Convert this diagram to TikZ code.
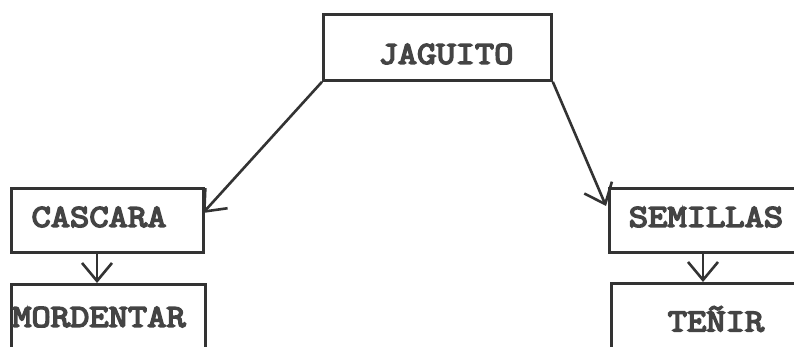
\documentclass[tikz,border=0pt]{standalone}
\usepackage{fontspec}
\newfontfamily\boxfont[FakeBold=5,FakeStretch=1.17]{Latin Modern Mono}
\usetikzlibrary{arrows.meta}
\definecolor{ink}{HTML}{333333}
\definecolor{txt}{HTML}{444444}
\begin{document}
\begin{tikzpicture}[x=1pt,y=-1pt,
  box/.style={draw=ink,line width=2.8pt,rectangle,inner sep=0pt,anchor=north west},
  lbl/.style={text=txt,font=\fontsize{32}{32}\selectfont\boxfont,inner sep=0pt,anchor=center},
  conn/.style={draw=ink,line width=2.6pt,-{Straight Barb[length=18pt,width=30pt,line width=2.6pt]}}]
\useasboundingbox (0,0) rectangle (794,347);
\fill[white] (0,0) rectangle (794,347);
% boxes
\node[box,minimum width=228pt,minimum height=66pt] (jag) at (322,13) {};
\node[box,minimum width=192pt,minimum height=64pt] (cas) at (10,187) {};
\node[box,minimum width=194pt,minimum height=66pt] (mor) at (10,283) {};
\node[box,minimum width=200pt,minimum height=64pt] (sem) at (608,187) {};
\node[box,minimum width=200pt,minimum height=66pt] (ten) at (610,282) {};
% labels
\node[lbl] (tjag) at (446,54) {JAGUITO};
\node[lbl] (tcas) at (99,217) {CASCARA};
\node[lbl] (tmor) at (99,317) {MORDENTAR};
\node[lbl] (tsem) at (706,217) {SEMILLAS};
\node[lbl] (tten) at (716,319) {TEÑIR};
% connectors
\coordinate (c1) at (203,213);
\coordinate (c2) at (606,206);
\draw[conn] (jag.south west) -- (c1);
\draw[conn] (jag.south east) -- (c2);
\draw[conn] (cas.south west -| 97,0) -- (mor.north west -| 97,0);
\draw[conn] (sem.south west -| 703,0) -- (ten.north west -| 703,0);
\end{tikzpicture}
\end{document}
